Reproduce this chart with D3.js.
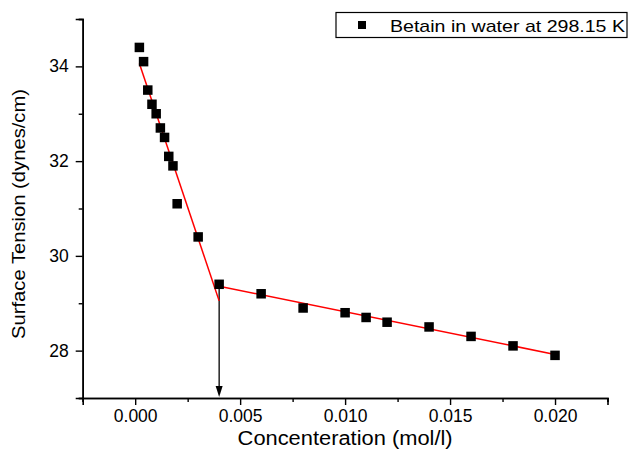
<!DOCTYPE html>
<html>
<head>
<meta charset="utf-8">
<script src="https://cdn.jsdelivr.net/npm/d3@7"></script>
<style>
  html, body { margin: 0; padding: 0; background: #fff; }
  svg { display: block; font-family: "Liberation Sans", Arial, sans-serif; }
</style>
</head>
<body>
<svg id="chart" width="630" height="457"></svg>
<script>
// ---- data ----
const concentration = [0.0002, 0.0004, 0.0006, 0.0008, 0.0010, 0.0012, 0.0014, 0.0016, 0.0018, 0.0020,
                       0.0030, 0.0040, 0.0060, 0.0080, 0.0100, 0.0110, 0.0120, 0.0140, 0.0160, 0.0180, 0.0200];
const tension = [34.4, 34.1, 33.5, 33.2, 33.0, 32.7, 32.5, 32.1, 31.9, 31.1,
                 30.4, 29.4, 29.2, 28.9, 28.8, 28.7, 28.6, 28.5, 28.3, 28.1, 27.9];
const fit1X = [0.0002, 0.0040];
const fit1Y = [34.06, 29.05];
const fit2X = [0.0040, 0.0200];
const fit2Y = [29.36, 27.92];
const cmcX = 0.0040;
const cmcY = 29.36;
const xTicks = [0.000, 0.005, 0.010, 0.015, 0.020];
const xMinorTicks = [-0.0025, 0.0025, 0.0075, 0.0125, 0.0175, 0.0225];
const yTicks = [28, 30, 32, 34];
const yMinorTicks = [27, 29, 31, 33, 35];
const seriesName = "Betain in water at 298.15 K";
const xTitle = "Concenteration (mol/l)";
const yTitle = "Surface Tension (dynes/cm)";

// ---- layout ----
const L = 82.7, R = 607.5, T = 19, B = 398;
const svg = d3.select("#chart");
const x = d3.scaleLinear().domain([-0.0025, 0.0225]).range([L, R]);
const y = d3.scaleLinear().domain([27, 35]).range([B, T]);

// axes
const xAxis = d3.axisBottom(x).tickValues(xTicks).tickFormat(d3.format(".3f")).tickSize(7).tickPadding(5);
const xMinor = d3.axisBottom(x).tickValues(xMinorTicks).tickFormat("").tickSize(4);
const yAxis = d3.axisLeft(y).tickValues(yTicks).tickFormat(d3.format("d")).tickSize(7).tickPadding(7);
const yMinor = d3.axisLeft(y).tickValues(yMinorTicks).tickFormat("").tickSize(4);

function styleAxis(g) {
  g.select(".domain").attr("stroke", "#000").attr("stroke-width", 1.6);
  g.selectAll(".tick line").attr("stroke", "#000").attr("stroke-width", 1.4);
  g.selectAll(".tick text").attr("fill", "#000").style("font-size", "17.5px");
}

svg.append("g").attr("transform", `translate(0,${B})`).call(xMinor).call(styleAxis);
svg.append("g").attr("transform", `translate(0,${B})`).call(xAxis).call(styleAxis);
svg.append("g").attr("transform", `translate(${L},0)`).call(yMinor).call(styleAxis);
svg.append("g").attr("transform", `translate(${L},0)`).call(yAxis).call(styleAxis);

// axis titles
svg.append("text").attr("x", (L + R) / 2).attr("y", 445)
  .attr("text-anchor", "middle").style("font-size", "20px").attr("fill", "#000")
  .attr("textLength", 215).attr("lengthAdjust", "spacingAndGlyphs").text(xTitle);
svg.append("text").attr("transform", `translate(25,214) rotate(-90)`)
  .attr("text-anchor", "middle").style("font-size", "19px").attr("fill", "#000")
  .attr("textLength", 250).attr("lengthAdjust", "spacingAndGlyphs").text(yTitle);

// arrow
svg.append("line")
  .attr("x1", x(cmcX)).attr("x2", x(cmcX))
  .attr("y1", y(cmcY)).attr("y2", y(27) - 8)
  .attr("stroke", "#000").attr("stroke-width", 1.3);
const ax = x(cmcX), ay = y(27) - 1;
svg.append("path")
  .attr("d", `M${ax - 3.5},${ay - 11} L${ax + 3.5},${ay - 11} L${ax},${ay} Z`)
  .attr("fill", "#000");

// fit lines
const line = d3.line().x(d => x(d[0])).y(d => y(d[1]));
svg.append("path").datum(d3.zip(fit1X, fit1Y)).attr("d", line)
  .attr("fill", "none").attr("stroke", "#ff0000").attr("stroke-width", 1.5);
svg.append("path").datum(d3.zip(fit2X, fit2Y)).attr("d", line)
  .attr("fill", "none").attr("stroke", "#ff0000").attr("stroke-width", 1.5);

// points
const S = 9.5;
svg.append("g").selectAll("rect").data(d3.zip(concentration, tension)).join("rect")
  .attr("x", d => x(d[0]) - S / 2).attr("y", d => y(d[1]) - S / 2)
  .attr("width", S).attr("height", S).attr("fill", "#000");

// legend
const lg = svg.append("g");
lg.append("rect").attr("x", 336).attr("y", 12.5).attr("width", 291).attr("height", 25)
  .attr("fill", "#fff").attr("stroke", "#000").attr("stroke-width", 1.2);
lg.append("rect").attr("x", 358).attr("y", 21).attr("width", 8).attr("height", 8).attr("fill", "#000");
lg.append("text").attr("x", 390).attr("y", 31.5).style("font-size", "17px").attr("fill", "#000")
  .attr("textLength", 235).attr("lengthAdjust", "spacingAndGlyphs").text(seriesName);
</script>
</body>
</html>
